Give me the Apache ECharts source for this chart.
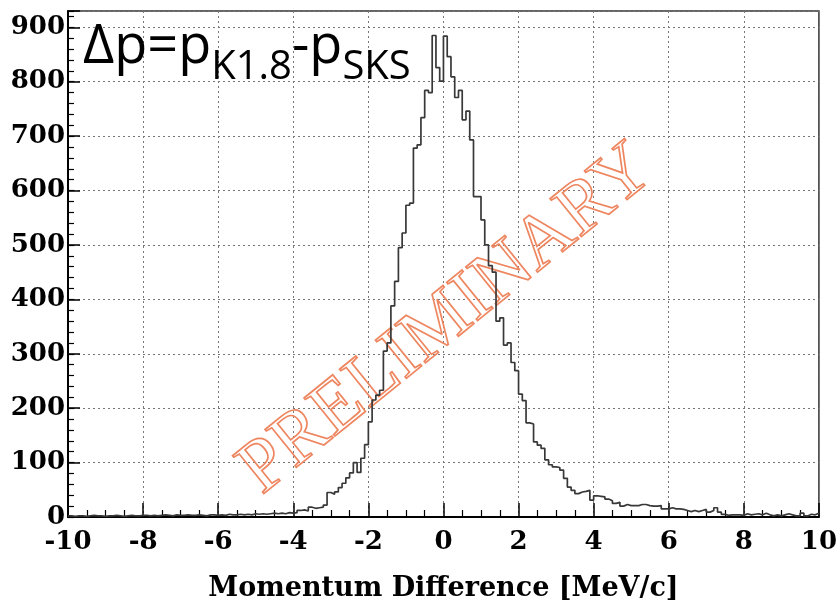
<!DOCTYPE html>
<html>
<head>
<meta charset="utf-8">
<script src="https://cdn.jsdelivr.net/npm/echarts@6/dist/echarts.min.js"></script>
<style>
  html, body { margin: 0; padding: 0; background: #fff; }
  #chart { width: 840px; height: 607px; }
</style>
</head>
<body>
<div id="chart"></div>
<script>
// Histogram binning of the momentum difference (MeV/c)
const X_MIN = -10;
const X_MAX = 10;
const BIN_WIDTH = 0.1;

// Counts per 0.1 MeV/c bin, from -10 to +10
const countsNeg10toNeg5 = [
  2, 1, 2, 2, 1, 2, 3, 2, 2, 1,
  2, 2, 3, 2, 1, 2, 3, 2, 2, 3,
  3, 2, 3, 2, 3, 4, 3, 2, 4, 3,
  3, 4, 3, 3, 4, 3, 2, 4, 4, 3,
  4, 3, 5, 4, 4, 5, 4, 5, 4, 6
];
const countsNeg5to0 = [
  5, 6, 5, 6, 7, 6, 7, 6, 8, 7,
  8, 12, 13, 11, 18, 16, 17, 18, 22, 45,
  42, 46, 54, 62, 72, 81, 100, 82, 108, 133,
  175, 215, 224, 233, 305, 320, 388, 433, 495, 522,
  573, 577, 678, 684, 734, 784, 780, 885, 826, 801
];
const counts0to5 = [
  884, 846, 809, 771, 784, 730, 746, 693, 589, 589,
  546, 500, 462, 450, 360, 366, 316, 320, 284, 269,
  226, 214, 173, 171, 138, 132, 126, 105, 96, 92,
  91, 86, 71, 55, 49, 43, 46, 47, 49, 31,
  39, 38, 37, 33, 30, 25, 27, 20, 23, 21
];
const counts5to10 = [
  21, 21, 23, 23, 21, 20, 20, 21, 15, 15,
  17, 15, 15, 14, 12, 10, 12, 10, 12, 14,
  9, 12, 17, 9, 5, 3, 4, 4, 4, 3,
  6, 4, 5, 6, 4, 7, 4, 2, 4, 2,
  4, 6, 4, 2, 2, 7, 2, 5, 4, 7
];
const counts = [].concat(countsNeg10toNeg5, countsNeg5to0, counts0to5, counts5to10);

// Axis settings
const X_TICK_STEP = 2;
const Y_MAX = 930;
const Y_TICK_STEP = 100;
const Y_MINOR_STEP = 20;
const X_TITLE = 'Momentum Difference [MeV/c]';
const WATERMARK = 'PRELIMINARY';

// Step outline: each bin starts at its lower edge; the last bin is closed at X_MAX
const stepData = counts.map((c, i) => [+(X_MIN + i * BIN_WIDTH).toFixed(2), c]);
stepData.push([X_MAX, counts[counts.length - 1]]);

const labelFont = {
  fontFamily: 'DejaVu Serif',
  fontWeight: 'bold',
  fontSize: 26,
  color: '#000'
};

const chart = echarts.init(document.getElementById('chart'), null, { renderer: 'canvas' });

chart.setOption({
  animation: false,
  backgroundColor: '#fff',
  grid: {
    left: 68, right: 20, top: 11, bottom: 86,
    show: true, borderColor: '#333', borderWidth: 1.5
  },
  xAxis: {
    type: 'value',
    min: X_MIN, max: X_MAX, interval: X_TICK_STEP,
    name: X_TITLE,
    nameLocation: 'middle',
    nameGap: 58,
    nameTextStyle: Object.assign({}, labelFont, { fontSize: 27 }),
    axisLine: { show: true, onZero: false, lineStyle: { color: '#000', width: 2 } },
    axisTick: { show: true, inside: true, length: 14, lineStyle: { color: '#000', width: 1.5 } },
    minorTick: { show: true, splitNumber: 4, length: 7, lineStyle: { color: '#000', width: 1.2 } },
    axisLabel: Object.assign({ margin: 12 }, labelFont),
    splitLine: { show: true, lineStyle: { color: '#777', width: 1, type: [2, 3] } }
  },
  yAxis: [
    {
      type: 'value',
      position: 'left',
      min: 0, max: Y_MAX, interval: Y_TICK_STEP,
      axisLine: { show: true, onZero: false, lineStyle: { color: '#000', width: 2 } },
      axisTick: { show: true, inside: true, length: 12, lineStyle: { color: '#000', width: 1.5 } },
      axisLabel: Object.assign({
        margin: 3,
        formatter: v => (v % Y_TICK_STEP === 0 ? String(v) : '')
      }, labelFont),
      splitLine: { show: true, lineStyle: { color: '#777', width: 1, type: [2, 3] } }
    },
    {
      // fine ticks every 20 counts along the left edge
      type: 'value',
      position: 'left',
      min: 0, max: Y_MAX, interval: Y_MINOR_STEP,
      axisLine: { show: false, onZero: false },
      axisTick: { show: true, inside: true, length: 6, lineStyle: { color: '#000', width: 1.2 } },
      axisLabel: { show: false },
      splitLine: { show: false }
    }
  ],
  series: [
    {
      type: 'line',
      step: 'end',
      yAxisIndex: 0,
      data: stepData,
      showSymbol: false,
      symbol: 'none',
      clip: true,
      lineStyle: { color: '#383838', width: 1.7 },
      z: 3
    }
  ],
  graphic: [
    {
      type: 'text',
      left: 83,
      top: 21,
      z: 10,
      style: {
        text: '{m|Δp=p}{s|K1.8}{m|-p}{s|SKS}',
        fill: '#000',
        rich: {
          m: { fontFamily: 'Open Sans', fontSize: 54, lineHeight: 80, fill: '#000' },
          s: { fontFamily: 'Open Sans', fontSize: 40, lineHeight: 40, verticalAlign: 'bottom', fill: '#000' }
        }
      }
    },
    {
      type: 'text',
      x: 447,
      y: 320,
      rotation: 39 * Math.PI / 180,
      z: 1,
      style: {
        text: WATERMARK,
        align: 'center',
        verticalAlign: 'middle',
        fontFamily: 'Liberation Serif',
        fontSize: 75,
        fill: 'rgba(0,0,0,0)',
        stroke: '#EE8660',
        lineWidth: 1.7
      }
    }
  ]
});
</script>
</body>
</html>
